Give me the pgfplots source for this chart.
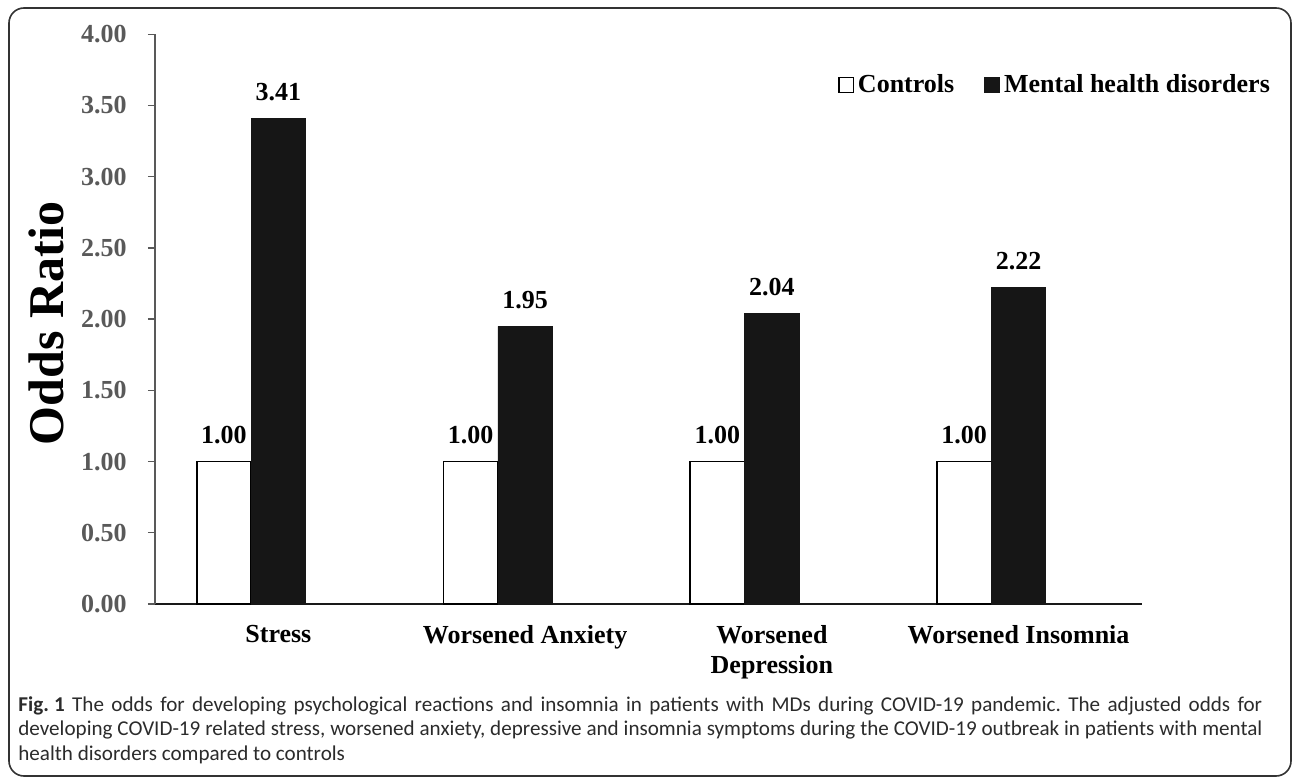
\documentclass[border=0pt]{standalone}
\usepackage{fontspec}
\setmainfont{Liberation Serif}
\newfontfamily\capfont{Carlito}
\usepackage{pgfplots}
\pgfplotsset{compat=1.18}
\definecolor{tickgray}{HTML}{595959}
\definecolor{barblack}{HTML}{161616}
\definecolor{capgray}{HTML}{2B2B2B}

\begin{document}
\frenchspacing
\begin{tikzpicture}[x=1pt,y=1pt]
\useasboundingbox (0,0) rectangle (646,389);
\draw[rounded corners=7.5pt, line width=0.8pt, black!80] (4.5,1) rectangle (645.5,385);
\begin{axis}[
  at={(77.5pt,87pt)}, anchor=south west,
  scale only axis, width=493.5pt, height=284.85pt,
  xmin=-0.5, xmax=3.5, ymin=0, ymax=4,
  axis x line*=bottom, axis y line*=left,
  x axis line style={black!90, line width=1.1pt},
  y axis line style={tickgray, line width=0.7pt},
  /pgf/number format/assume math mode=true,
  ytick={0,0.5,...,4},
  yticklabel={\pgfmathprintnumber[fixed,fixed zerofill,precision=2]{\tick}},
  y tick label style={font=\bfseries\fontsize{13}{15}\selectfont, text=tickgray, inner sep=0pt, anchor=east, xshift=-10.5pt},
  ytick style={tickgray, line width=0.7pt},
  tick align=outside,
  major tick length=3.5pt,
  xtick={0,1,2,3},
  xticklabels={Stress, Worsened Anxiety, {Worsened\\Depression}, Worsened Insomnia},
  x tick label style={font=\bfseries\fontsize{13}{15}\selectfont, text=black, align=center, anchor=north, inner sep=0pt, yshift=-7pt},
  xtick style={draw=none},
  ylabel={Odds Ratio},
  ylabel style={font=\bfseries\fontsize{25}{30}\selectfont, at={(axis description cs:-0.1104,0.4924)}, anchor=center},
  nodes near coords={\pgfmathprintnumber[fixed,fixed zerofill,precision=2]{\pgfplotspointmeta}},
  every node near coord/.append style={font=\bfseries\fontsize{13}{15}\selectfont, text=black, inner sep=0pt, anchor=base, yshift=9pt},
  legend columns=2,
  legend style={draw=none, fill=none, at={(axis description cs:1.134,0.911)}, anchor=east,
    font=\bfseries\fontsize{13}{15}\selectfont, inner sep=0pt,
    /tikz/every even column/.append style={column sep=13pt}},
  legend cell align=left,
]
\addplot[ybar, bar width=0.2206, bar shift=-0.2206, fill=white, draw=black, line width=0.8pt,
  every node near coord/.append style={xshift=-27.2pt},
  legend image code/.code={\draw[black, fill=white, line width=0.6pt] (0pt,-3.6pt) rectangle (7.2pt,3.6pt);}]
  coordinates {(0,1.00) (1,1.00) (2,1.00) (3,1.00)};
\addlegendentry{Controls}
\addplot[ybar, bar width=0.2206, bar shift=0, fill=barblack, draw=barblack, line width=0.4pt,
  legend image code/.code={\fill[barblack] (0pt,-3.75pt) rectangle (7.5pt,3.75pt);}]
  coordinates {(0,3.41) (1,1.95) (2,2.04) (3,2.22)};
\addlegendentry{Mental health disorders}
\end{axis}
\node[anchor=base west, align=left, inner sep=0pt, text=capgray, font=\capfont\fontsize{10.55}{12.25}\selectfont] at (9,9)
{\hbox to 622pt{\textbf{Fig.\kern2.6pt1} The odds for developing psychological reactions and insomnia in patients with MDs during COVID-19 pandemic. The adjusted odds for}\\
\hbox to 622pt{developing COVID-19 related stress, worsened anxiety, depressive and insomnia symptoms during the COVID-19 outbreak in patients with mental}\\
health disorders compared to controls};
\end{tikzpicture}
\end{document}
